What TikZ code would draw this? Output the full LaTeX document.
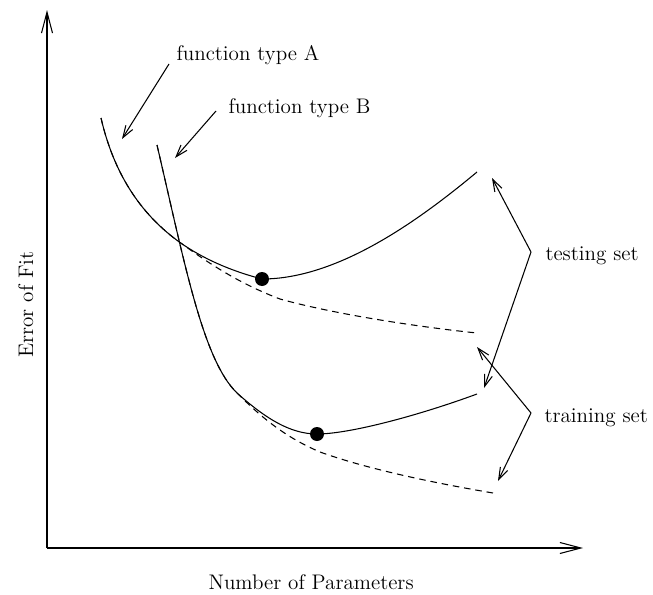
\documentclass[tikz,border=0pt]{standalone}
\usetikzlibrary{arrows.meta}

\begin{document}
\begin{tikzpicture}[x=0.02cm, y=-0.02cm, line width=0.6pt,
  axisarr/.style={-{Straight Barb[length=0.42cm, width=0.22cm]}},
  ptr/.style={-{Straight Barb[length=0.24cm, width=0.16cm]}},
  lab/.style={font=\large, inner sep=0pt, anchor=base west},
  est/.style={dash pattern=on 3.7pt off 2.8pt}]
  \useasboundingbox (0,0) rectangle (653,595);

  \coordinate (O) at (47,548);
  \coordinate (Ytip) at (47,10);
  \coordinate (Xtip) at (583,548);
  \coordinate (A0) at (101,118);
  \coordinate (A1) at (180.3,242.7);
  \coordinate (B0) at (157,145);
  \coordinate (B1) at (237,393);
  \coordinate (mA) at (262,279);
  \coordinate (mB) at (317,434);
  \coordinate (vTest) at (531,252);
  \coordinate (vTrain) at (531,413);

  % 坐标轴
  \draw[axisarr] (O)--(Ytip);
  \draw[axisarr] (O)--(Xtip);

  % 曲线 A (实线 / 虚线)
  \draw (A0) .. controls (113.35,171.3) and (138.8,213.1) .. (A1)
    .. controls (202.7,258.4) and (229.8,270.6) .. (mA)
    .. controls (337,279) and (417,222) .. (477,172);
  \draw[est] (A0) .. controls (113.35,171.3) and (138.8,213.1) .. (A1)
    .. controls (203,259) and (235,282) .. (280,299)
    .. controls (330,313) and (410,326) .. (477,333);

  % 曲线 B (实线 / 虚线)
  \draw (B0) .. controls (185,265) and (203,360) .. (B1)
    .. controls (265,418) and (290,434) .. (mB)
    .. controls (350,434) and (420,415) .. (477,394);
  \draw[est] (B0) .. controls (185,265) and (203,360) .. (B1)
    .. controls (262,418) and (285,437) .. (320,452)
    .. controls (370,470) and (440,484) .. (493,493);

  % 最小点
  \fill (mA) circle[radius=7];
  \fill (mB) circle[radius=7];

  % 标注
  \node[lab] (fA) at (176,60) {function type A};
  \node[lab] (fB) at (228,113) {function type B};
  \node[lab] (test) at (545,260) {testing set};
  \node[lab] (train) at (544,422) {training set};
  \node[lab] (xlab) at (208,589) {Number of Parameters};
  \node[lab, rotate=90] (ylab) at (33,358) {Error of Fit};

  \coordinate (sA) at (169,64);
  \coordinate (sB) at (216,111);
  \draw[ptr] (sA)--(122,139);
  \draw[ptr] (sB)--(175,158);

  \draw[ptr] (vTest)--(492,178);
  \draw[ptr] (vTest)--(484,388);
  \draw[ptr] (vTrain)--(477,347);
  \draw[ptr] (vTrain)--(498,481);
\end{tikzpicture}
\end{document}
